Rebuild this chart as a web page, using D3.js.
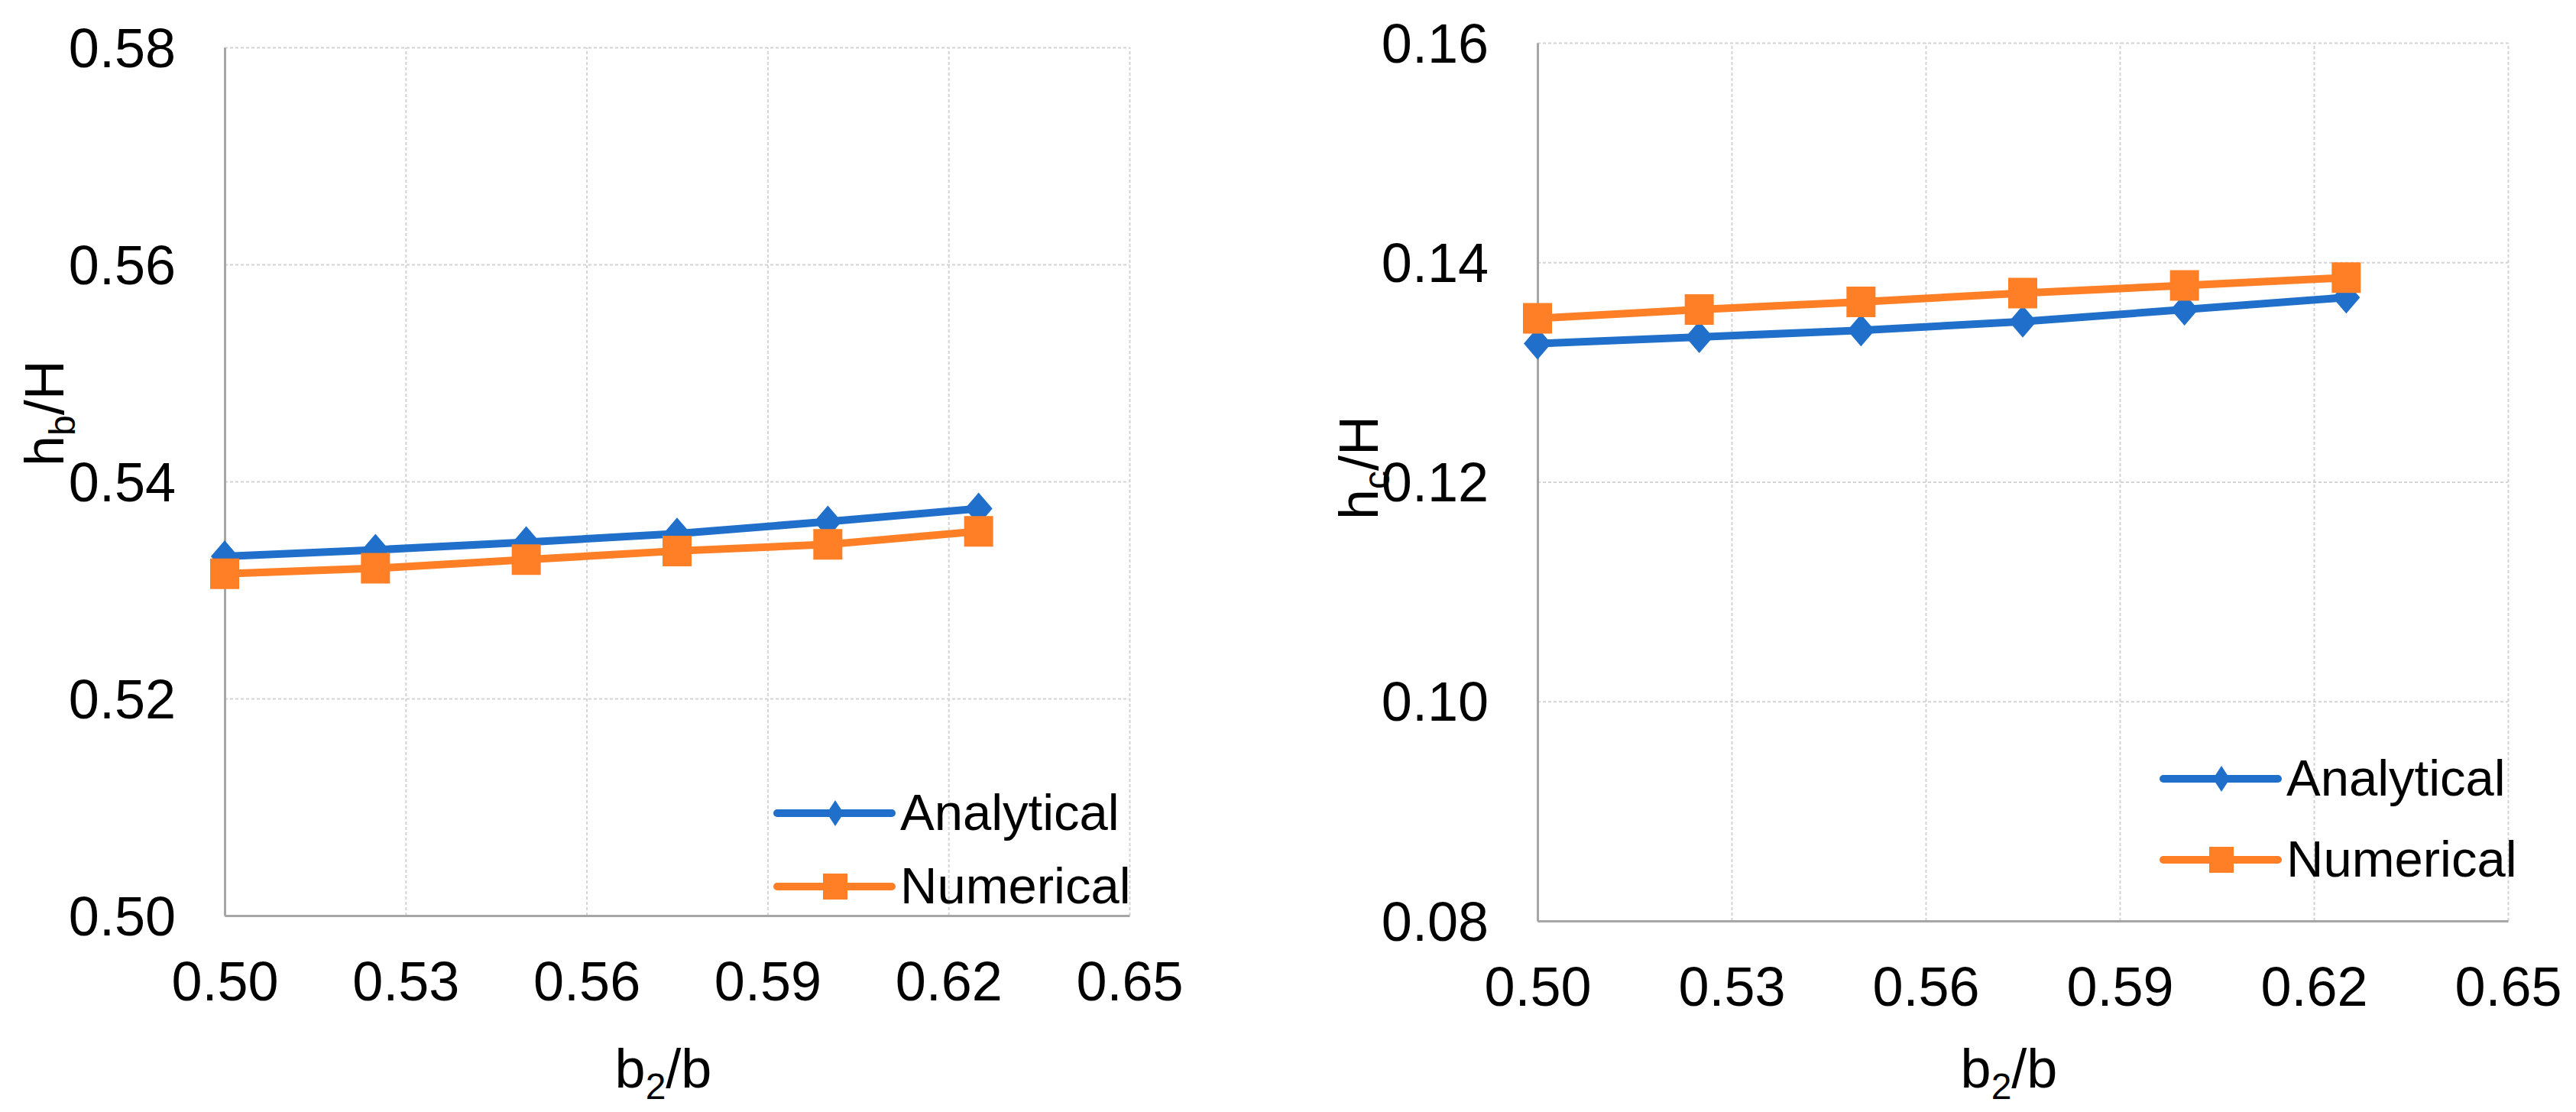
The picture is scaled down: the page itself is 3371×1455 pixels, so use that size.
<!DOCTYPE html>
<html>
<head>
<meta charset="utf-8">
<script src="https://cdn.jsdelivr.net/npm/d3@7"></script>
<style>
  body { margin: 0; background: #fff; }
  text { font-family: "Liberation Sans", Arial, sans-serif; fill: #000; }
</style>
</head>
<body>
<div id="chart"></div>
<script>
// b2/b values (same for both panels)
var ratios = [0.500, 0.525, 0.550, 0.575, 0.600, 0.625]
var xTicks = [0.50, 0.53, 0.56, 0.59, 0.62, 0.65]

// left panel: hb/H
var hbAnalytical = [0.5331, 0.5337, 0.5344, 0.5352, 0.5363, 0.5375]
var hbNumerical  = [0.5315, 0.5320, 0.5328, 0.5336, 0.5342, 0.5354]
var hbTicks = [0.50, 0.52, 0.54, 0.56, 0.58]

// right panel: hc/H
var hcAnalytical = [0.1326, 0.1332, 0.1338, 0.1346, 0.1357, 0.1368]
var hcNumerical  = [0.1349, 0.1357, 0.1364, 0.1372, 0.1379, 0.1386]
var hcTicks = [0.08, 0.10, 0.12, 0.14, 0.16]

var seriesNames = ['Analytical', 'Numerical']
var colors = ['#1f6fcb', '#ff7f27']

var W = 3371, H = 1455
var svg = d3.select('#chart').append('svg')
    .attr('width', W)
    .attr('height', H)
svg.append('rect').attr('width', W).attr('height', H).attr('fill', '#fff')

function diamond(w, h) {
  return 'M0,' + (-h) + 'L' + w + ',0L0,' + h + 'L' + (-w) + ',0Z'
}

function drawPanel(p) {
  var x = d3.scaleLinear().domain([0.50, 0.65]).range([p.left, p.right])
  var y = d3.scaleLinear().domain(d3.extent(p.yTicks)).range([p.bottom, p.top])
  var g = svg.append('g')

  // grid
  g.append('g')
      .attr('transform', 'translate(0,' + p.bottom + ')')
      .call(d3.axisBottom(x).tickValues(xTicks).tickSize(-(p.bottom - p.top)).tickFormat(''))
      .call(function(s){ s.select('.domain').remove() })
      .selectAll('line').attr('stroke', '#d4d4d4').attr('stroke-width', 2).attr('stroke-dasharray', '4,3')
  g.append('g')
      .attr('transform', 'translate(' + p.left + ',0)')
      .call(d3.axisLeft(y).tickValues(p.yTicks).tickSize(-(p.right - p.left)).tickFormat(''))
      .call(function(s){ s.select('.domain').remove() })
      .selectAll('line').attr('stroke', '#d4d4d4').attr('stroke-width', 2).attr('stroke-dasharray', '4,3')

  // axes
  var xa = g.append('g')
      .attr('transform', 'translate(0,' + p.bottom + ')')
      .call(d3.axisBottom(x).tickValues(xTicks).tickSize(0).tickPadding(60).tickFormat(d3.format('.2f')))
  var ya = g.append('g')
      .attr('transform', 'translate(' + p.left + ',0)')
      .call(d3.axisLeft(y).tickValues(p.yTicks).tickSize(0).tickPadding(64).tickFormat(d3.format('.2f')))
  ;[xa, ya].forEach(function(a){
    a.select('.domain').attr('stroke', '#a6a6a6').attr('stroke-width', 3)
    a.selectAll('text').attr('font-size', 72).attr('font-family', '"Liberation Sans", Arial, sans-serif').attr('fill', '#000')
  })
  ya.selectAll('text').attr('dy', '0.35em')

  // series
  var line = d3.line()
      .x(function(d){ return x(d[0]) })
      .y(function(d){ return y(d[1]) })
  p.series.forEach(function(vals, i){
    var pts = ratios.map(function(r, j){ return [r, vals[j]] })
    g.append('path')
        .datum(pts)
        .attr('d', line)
        .attr('fill', 'none')
        .attr('stroke', colors[i])
        .attr('stroke-width', 10)
        .attr('stroke-linejoin', 'round')
    g.selectAll('.m' + i).data(pts).enter().append('path')
        .attr('transform', function(d){ return 'translate(' + x(d[0]) + ',' + y(d[1]) + ')' })
        .attr('d', i === 0 ? diamond(18, 21) : 'M-19,-20H19V20H-19Z')
        .attr('fill', colors[i])
  })

  // legend
  seriesNames.forEach(function(name, i){
    var ly = p.legY[i]
    g.append('line')
        .attr('x1', p.legX).attr('x2', p.legX + 150)
        .attr('y1', ly).attr('y2', ly)
        .attr('stroke', colors[i]).attr('stroke-width', 10).attr('stroke-linecap', 'round')
    g.append('path')
        .attr('transform', 'translate(' + (p.legX + 76) + ',' + ly + ')')
        .attr('d', i === 0 ? diamond(11, 17) : 'M-16,-17H16V17H-16Z')
        .attr('fill', colors[i])
    g.append('text')
        .attr('x', p.legX + 161).attr('y', ly + 22)
        .attr('font-size', 67)
        .text(name)
  })

  // axis titles
  var xt = g.append('text')
      .attr('x', p.xTitleX).attr('y', 1423)
      .attr('text-anchor', 'middle')
      .attr('font-size', 72)
  xt.append('tspan').text('b')
  xt.append('tspan').attr('font-size', 48).attr('dy', 15).text('2')
  xt.append('tspan').attr('dy', -15).text('/b')

  var yt = g.append('text')
      .attr('transform', 'translate(' + p.yTitle[0] + ',' + p.yTitle[1] + ') rotate(-90)')
      .attr('font-size', 72)
  yt.append('tspan').text('h')
  yt.append('tspan').attr('font-size', 48).attr('dy', 15).text(p.sub)
  yt.append('tspan').attr('dy', -15).text('/H')
}

drawPanel({
  left: 294, right: 1478, top: 62, bottom: 1198,
  yTicks: hbTicks, series: [hbAnalytical, hbNumerical],
  legX: 1017, legY: [1064, 1160],
  xTitleX: 868, yTitle: [83, 610], sub: 'b'
})
drawPanel({
  left: 2012, right: 3282, top: 56, bottom: 1205,
  yTicks: hcTicks, series: [hcAnalytical, hcNumerical],
  legX: 2831, legY: [1019, 1125],
  xTitleX: 2629, yTitle: [1803, 680], sub: 'c'
})
</script>
</body>
</html>
